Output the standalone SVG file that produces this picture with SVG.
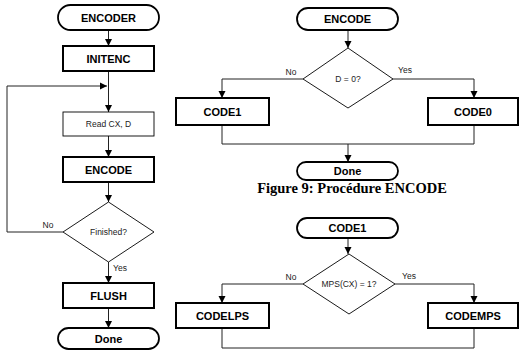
<svg xmlns="http://www.w3.org/2000/svg" width="519" height="350" viewBox="0 0 519 350">
<defs>
<style>
.t{fill:#fff;stroke:#000;stroke-width:1.8}
.b{fill:#fff;stroke:#000;stroke-width:2}
.n{fill:#fff;stroke:#000;stroke-width:0.9}
.c{fill:none;stroke:#222;stroke-width:1}
.bl{font-family:"Liberation Sans",Arial,sans-serif;font-weight:bold;font-size:11px;text-anchor:middle;fill:#000}
.sl{font-family:"Liberation Sans",Arial,sans-serif;font-size:8.5px;text-anchor:middle;fill:#222}
.cap{font-family:"Liberation Serif","Times New Roman",serif;font-weight:bold;font-size:14.5px;text-anchor:middle;fill:#000}
</style>
<marker id="ah" viewBox="0 0 10 10" refX="10" refY="5" markerWidth="7" markerHeight="9" markerUnits="userSpaceOnUse" orient="auto">
<path d="M0,0 L10,5 L0,10 z" fill="#000"/>
</marker>
</defs>
<rect width="519" height="350" fill="#fff"/>
<g id="connectors">
<line class="c" x1="108.5" y1="30" x2="108.5" y2="46" marker-end="url(#ah)"/>
<line class="c" x1="108.5" y1="71" x2="108.5" y2="112" marker-end="url(#ah)"/>
<line class="c" x1="108.5" y1="136" x2="108.5" y2="157" marker-end="url(#ah)"/>
<line class="c" x1="108.5" y1="182" x2="108.5" y2="202" marker-end="url(#ah)"/>
<polyline class="c" points="63,232 7,232 7,86 107,86" marker-end="url(#ah)"/>
<line class="c" x1="108.5" y1="262" x2="108.5" y2="283" marker-end="url(#ah)"/>
<line class="c" x1="108.5" y1="308" x2="108.5" y2="328" marker-end="url(#ah)"/>
<line class="c" x1="348" y1="30" x2="348" y2="48" marker-end="url(#ah)"/>
<polyline class="c" points="303,79 222,79 222,98" marker-end="url(#ah)"/>
<polyline class="c" points="393,79 474,79 474,98" marker-end="url(#ah)"/>
<polyline class="c" points="222,125 222,144 474,144 474,125"/>
<line class="c" x1="348" y1="144" x2="348" y2="162" marker-end="url(#ah)"/>
<line class="c" x1="348" y1="238" x2="348" y2="254" marker-end="url(#ah)"/>
<polyline class="c" points="303,284 222,284 222,303" marker-end="url(#ah)"/>
<polyline class="c" points="395,284 474,284 474,303" marker-end="url(#ah)"/>
<polyline class="c" points="222,328 222,348 474,348 474,328"/>
</g>
<g id="n-encoder"><rect class="t" x="58" y="5" width="101" height="25" rx="12.5"/><text class="bl" x="108.5" y="21.5">ENCODER</text></g>
<g id="n-initenc"><rect class="b" x="63" y="46" width="91" height="25"/><text class="bl" x="108.5" y="62.5">INITENC</text></g>
<g id="n-read"><rect class="n" x="63" y="112" width="91" height="24"/><text class="sl" x="108.5" y="127">Read CX, D</text></g>
<g id="n-encode1"><rect class="b" x="63" y="157" width="91" height="25"/><text class="bl" x="108.5" y="173.5">ENCODE</text></g>
<g id="n-finished"><polygon class="n" points="108.5,202 154,232 108.5,262 63,232"/><text class="sl" x="108.5" y="235">Finished?</text></g>
<g id="n-flush"><rect class="b" x="63" y="283" width="91" height="25"/><text class="bl" x="108.5" y="299.5">FLUSH</text></g>
<g id="n-done1"><rect class="t" x="58" y="328" width="101" height="21" rx="10.5"/><text class="bl" x="108.5" y="342.5">Done</text></g>
<text class="sl" x="48" y="228">No</text>
<text class="sl" x="120" y="271">Yes</text>
<g id="n-encode2"><rect class="t" x="297" y="8" width="101" height="22" rx="11"/><text class="bl" x="347.5" y="23">ENCODE</text></g>
<g id="n-d0"><polygon class="n" points="348,48 393,79 348,108 303,79"/><text class="sl" x="348" y="82">D = 0?</text></g>
<g id="n-code1"><rect class="b" x="176" y="98" width="93" height="27"/><text class="bl" x="222.5" y="115.5">CODE1</text></g>
<g id="n-code0"><rect class="b" x="428" y="98" width="90" height="27"/><text class="bl" x="473" y="115.5">CODE0</text></g>
<g id="n-done2"><rect class="t" x="297" y="162" width="101" height="18" rx="9"/><text class="bl" x="347.5" y="175">Done</text></g>
<text class="sl" x="291" y="75">No</text>
<text class="sl" x="405" y="73">Yes</text>
<text class="cap" x="352" y="193">Figure 9: Procédure ENCODE</text>
<g id="n-code1t"><rect class="t" x="297" y="218" width="101" height="20" rx="10"/><text class="bl" x="347.5" y="232">CODE1</text></g>
<g id="n-mps"><polygon class="n" points="349,254 395,284 349,314 303,284"/><text class="sl" x="349" y="287">MPS(CX) = 1?</text></g>
<g id="n-codelps"><rect class="b" x="176" y="303" width="93" height="25"/><text class="bl" x="222.5" y="319.5">CODELPS</text></g>
<g id="n-codemps"><rect class="b" x="428" y="303" width="90" height="25"/><text class="bl" x="473" y="319.5">CODEMPS</text></g>
<text class="sl" x="291" y="280">No</text>
<text class="sl" x="409" y="279">Yes</text>
</svg>
